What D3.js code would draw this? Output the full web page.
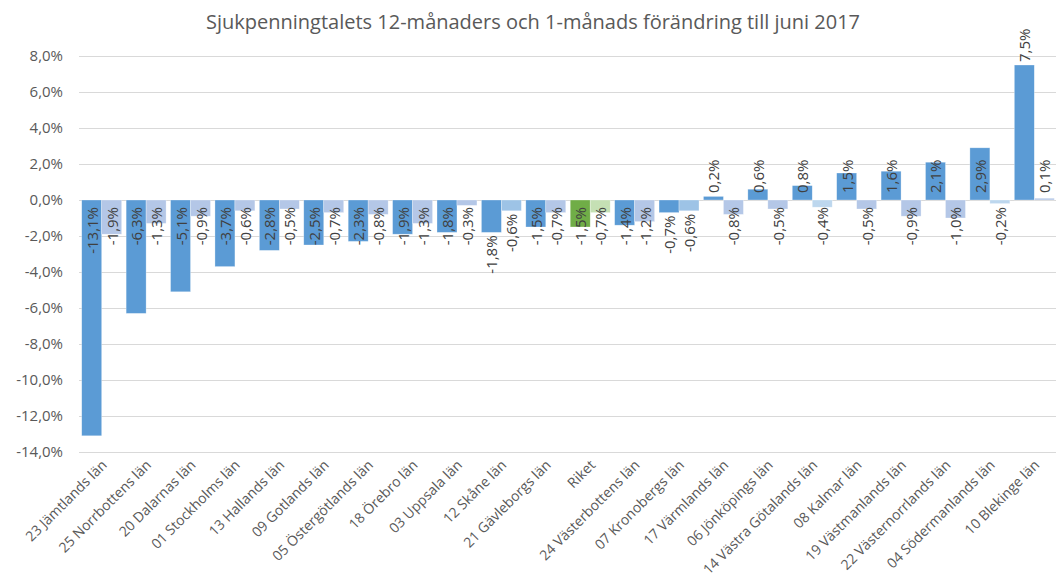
<!DOCTYPE html>
<html><head><meta charset="utf-8">
<script src="https://cdn.jsdelivr.net/npm/d3@7"></script>
<style>
html,body{margin:0;padding:0;background:#fff;}
svg text{font-family:"Open Sans","Noto Sans",sans-serif;}
</style></head>
<body>
<svg id="chart" width="1058" height="581"></svg>
<script>
const categories = ["23 Jämtlands län","25 Norrbottens län","20 Dalarnas län","01 Stockholms län","13 Hallands län","09 Gotlands län","05 Östergötlands län","18 Örebro län","03 Uppsala län","12 Skåne län","21 Gävleborgs län","Riket","24 Västerbottens län","07 Kronobergs län","17 Värmlands län","06 Jönköpings län","14 Västra Götalands län","08 Kalmar län","19 Västmanlands län","22 Västernorrlands län","04 Södermanlands län","10 Blekinge län"];
const change12m = [-13.1,-6.3,-5.1,-3.7,-2.8,-2.5,-2.3,-1.9,-1.8,-1.8,-1.5,-1.5,-1.4,-0.7,0.2,0.6,0.8,1.5,1.6,2.1,2.9,7.5];
const change1m = [-1.9,-1.3,-0.9,-0.6,-0.5,-0.7,-0.8,-1.3,-0.3,-0.6,-0.7,-0.7,-1.2,-0.6,-0.8,-0.5,-0.4,-0.5,-0.9,-1.0,-0.2,0.1];
const yTicks = [8,6,4,2,0,-2,-4,-6,-8,-10,-12,-14];
const title = "Sjukpenningtalets 12-månaders och 1-månads förändring till juni 2017";

// label placement exceptions (outside end of bar)
const outsideEnd12 = new Set(["12 Skåne län","07 Kronobergs län","10 Blekinge län"]);
const outsideEnd1 = new Set(["12 Skåne län","07 Kronobergs län"]);

const svg = d3.select("#chart");
const fmt = v => d3.format(".1f")(v).replace(".", ",").replace("−","-") + "%";

const y = d3.scaleLinear().domain([-14, 8]).range([452, 56]);
const x0 = d3.scaleBand().domain(categories).range([79.5, 1056.5]).paddingInner(0.1).paddingOuter(0.05);
const x1 = d3.scaleBand().domain(["m12","m1"]).range([0, x0.bandwidth()]);

const rows = categories.map((c,i)=>({cat:c, m12:change12m[i], m1:change1m[i]}));

// title
svg.append("text").attr("x", 533).attr("y", 29).attr("text-anchor","middle")
  .attr("font-size", 20).attr("fill", "#595959").text(title);

// gridlines
svg.append("g").selectAll("line").data(yTicks).join("line")
  .attr("x1", 79).attr("x2", 1056)
  .attr("y1", d=>Math.round(y(d))+0.5).attr("y2", d=>Math.round(y(d))+0.5)
  .attr("stroke", "#D9D9D9").attr("stroke-width", 1);

// y axis labels
const yAxis = d3.axisLeft(y).tickValues(yTicks).tickSize(0).tickPadding(0)
  .tickFormat(d => fmt(d));
const gy = svg.append("g").attr("transform","translate(63,0)").call(yAxis);
gy.select(".domain").remove();
gy.selectAll("text").attr("font-size", 15).attr("fill","#595959").attr("font-family","Open Sans");

function color(cat, key){
  if (cat === "Riket") return key==="m12" ? "#70AD47" : "#C5E0B4";
  if (key==="m12") return "#5B9BD5";
  if (cat==="12 Skåne län" || cat==="07 Kronobergs län") return "#9DC3E6";
  if (cat==="14 Västra Götalands län" || cat==="04 Södermanlands län") return "#BDD7EE";
  return "#B4C7E7";
}

const groups = svg.append("g").selectAll("g").data(rows).join("g")
  .attr("transform", d=>`translate(${x0(d.cat)},0)`);

groups.selectAll("rect").data(d=>["m12","m1"].map(k=>({cat:d.cat,key:k,v:d[k]}))).join("rect")
  .attr("x", d=>x1(d.key)).attr("width", x1.bandwidth())
  .attr("y", d=>Math.min(y(d.v), y(0))).attr("height", d=>Math.abs(y(d.v)-y(0)))
  .attr("fill", d=>color(d.cat,d.key))
  .attr("stroke", "#fff").attr("stroke-opacity",0.5).attr("stroke-width",0.6);

// data labels
groups.selectAll("text.lbl").data(d=>["m12","m1"].map(k=>({cat:d.cat,key:k,v:d[k]}))).join("text")
  .attr("class","lbl")
  .attr("font-size", 15).attr("fill","#404040")
  .attr("dominant-baseline","central")
  .attr("text-anchor", d=> d.v<0 ? "end" : "start")
  .attr("transform", d=>{
    const cx = x1(d.key) + x1.bandwidth()/2;
    const outside = d.key==="m12" ? outsideEnd12.has(d.cat) : outsideEnd1.has(d.cat);
    let ly;
    if (outside) ly = d.v<0 ? y(d.v)+3 : y(d.v)-3;
    else ly = d.v<0 ? y(0)+7 : y(0)-7;
    return `translate(${cx},${ly}) rotate(-90)`;
  })
  .text(d=>fmt(d.v));

// x axis labels
svg.append("g").selectAll("text").data(categories).join("text")
  .attr("font-size", 14).attr("fill","#595959").attr("text-anchor","end")
  .attr("transform", d=>`translate(${x0(d)+x0.bandwidth()/2+6},${466}) rotate(-45)`)
  .text(d=>d);
</script>
</body></html>
